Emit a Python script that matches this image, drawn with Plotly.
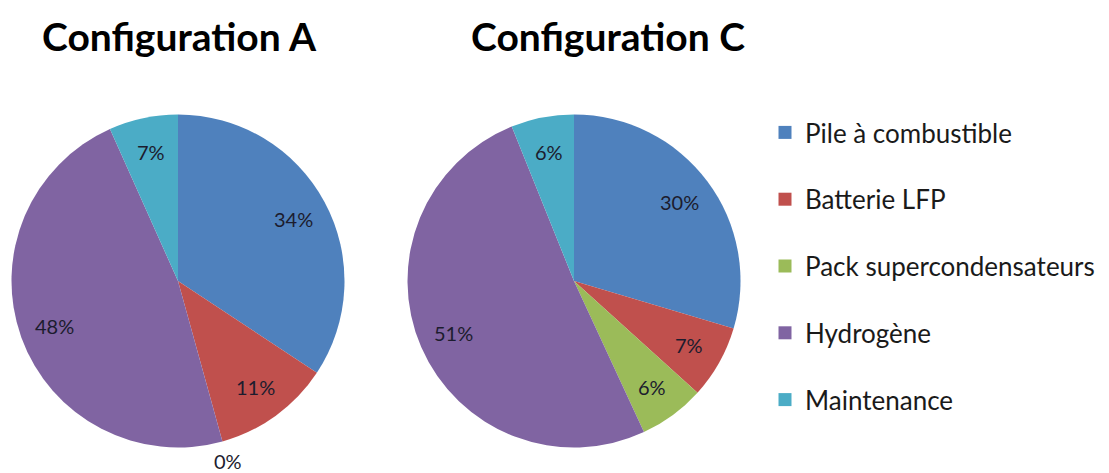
import math
import plotly.graph_objects as go

labels = ["Pile à combustible", "Batterie LFP", "Pack supercondensateurs", "Hydrogène", "Maintenance"]
colors = ["#4F81BD", "#C0504D", "#9BBB59", "#8064A2", "#4BACC6"]
values_A = [34.3, 11.4, 0.001, 47.6, 6.7]
values_C = [29.6, 7.1, 6.4, 50.8, 6.1]
titles = ["Configuration A", "Configuration C"]

W, H = 1109, 473
OFF = 8  # page body margin
FONT = "Lato"
LABEL_COLOR = "#1c1c2e"


def px(x):
    return (x - OFF) / W


def py(y):
    return 1 - (y - OFF) / H


# pie geometry (page pixels)
pies = [
    dict(values=values_A, cx=178, cy=281, r=166.5, title=titles[0], tx=179),
    dict(values=values_C, cx=574, cy=281, r=166.5, title=titles[1], tx=608),
]

fig = go.Figure()
annotations = []

for p in pies:
    cx, cy, r = p["cx"], p["cy"], p["r"]
    fig.add_trace(go.Pie(
        labels=labels, values=p["values"], sort=False, direction="clockwise", rotation=0,
        marker=dict(colors=colors, line=dict(width=0)),
        textinfo="none",
        domain=dict(x=[px(cx - r), px(cx + r)], y=[py(cy + r), py(cy - r)]),
        showlegend=False, hoverinfo="label+percent",
    ))
    total = sum(p["values"])
    cum = 0.0
    for v in p["values"]:
        frac = v / total
        mid = (cum + frac / 2) * 2 * math.pi
        cum += frac
        rr = 0.79 * r if frac > 0.01 else 1.12 * r
        lx = cx + rr * math.sin(mid)
        ly = cy - rr * math.cos(mid)
        annotations.append(dict(
            text=f"{round(frac * 100):d}%", x=px(lx), y=py(ly), xref="paper", yref="paper",
            showarrow=False, xanchor="center", yanchor="middle",
            font=dict(family=FONT, size=20, color=LABEL_COLOR),
        ))
    annotations.append(dict(
        text="<b>" + p["title"] + "</b>",
        x=px(p["tx"]), y=py(36), xref="paper", yref="paper",
        showarrow=False, xanchor="center", yanchor="middle",
        font=dict(family=FONT, size=39, color="#000000"),
    ))

# legend entries
for i, (lab, col) in enumerate(zip(labels, colors)):
    fig.add_trace(go.Scatter(
        x=[None], y=[None], mode="markers", name=lab,
        marker=dict(symbol="square", size=13, color=col),
        legendgroup=f"g{i}", showlegend=True,
    ))

fig.update_layout(
    width=W, height=H,
    margin=dict(l=0, r=0, t=0, b=0),
    paper_bgcolor="white", plot_bgcolor="white",
    xaxis=dict(visible=False), yaxis=dict(visible=False),
    annotations=annotations,
    legend=dict(x=px(765), y=py(109), xanchor="left", yanchor="top",
                font=dict(family=FONT, size=26, color="#1a1a1a"),
                tracegroupgap=30, bgcolor="rgba(0,0,0,0)", itemsizing="trace"),
)

fig.write_html("out.html")
